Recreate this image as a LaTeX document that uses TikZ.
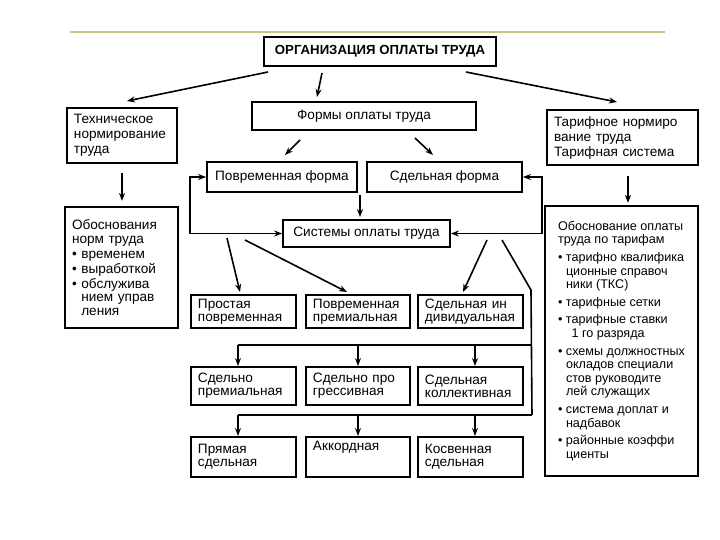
\documentclass[tikz,border=0pt]{standalone}
\usepackage{fontspec}
\setmainfont{Liberation Sans}
\usetikzlibrary{arrows.meta}
\definecolor{olivline}{RGB}{200,195,130}
\newcommand{\blt}{\textbullet\ }
\newcommand{\ind}{\hphantom{\textbullet\ }}
\begin{document}
\begin{tikzpicture}[x=0.5pt, y=-0.5pt,
    box/.style={
        draw,
        line width=0.9pt,
        rectangle,
        inner xsep=3.5pt,
        inner ysep=1pt,
        align=left,
        font=\fontsize{6.8}{6.6}\selectfont
    },
    cbox/.style={
        box,
        align=center
    },
    titlebox/.style={
        box,
        align=center,
        font=\fontsize{6.6}{7}\selectfont\bfseries
    },
    listbox/.style={
        box,
        font=\fontsize{6.3}{6.8}\selectfont
    },
    arr/.style={-{Stealth[length=4pt,width=3pt]}, line width=0.8pt},
    darr/.style={{Stealth[length=4pt,width=3pt]}-{Stealth[length=4pt,width=3pt]}, line width=0.8pt},
    link/.style={line width=0.8pt}
]
    \useasboundingbox (0,0) rectangle (720,540);

    % Линия сверху
    \draw[olivline, line width=0.6pt] (70,32) -- (665,32);

    % Верхний уровень
    \node[titlebox, minimum width=116pt, minimum height=14.5pt] (org) at (380,51.5) {ОРГАНИЗАЦИЯ ОПЛАТЫ ТРУДА};
    \node[box, font=\fontsize{6.8}{7.5}\selectfont, text width=48pt, minimum height=27.5pt] (tech) at (122,135.5) {Техническое\\нормирование\\труда};
    \node[cbox, minimum width=112pt, minimum height=14pt] (formy) at (364,116) {Формы оплаты труда};
    \node[box, font=\fontsize{6.8}{7.5}\selectfont, text width=68.5pt, minimum height=27.5pt] (tarif) at (622.5,137.5) {Тарифное нормиро\\вание труда\\Тарифная система};

    % Левая и правая колонки
    \node[box, text width=49.5pt, minimum height=60.5pt] (obosn) at (121.5,267.5) {Обоснования\\норм труда\\[1pt]
        \blt временем\\[1pt]
        \blt выработкой\\[1pt]
        \blt обслужива\\\ind нием управ\\\ind ления};
    \node[listbox, minimum width=76.5pt, minimum height=135pt] (tarob) at (621.5,341) {Обоснование оплаты\\труда по тарифам\\[2pt]
        \blt тарифно квалифика\\\ind ционные справоч\\\ind ники (ТКС)\\[2pt]
        \blt тарифные сетки\\[2pt]
        \blt тарифные ставки\\\ind\, 1 го разряда\\[2pt]
        \blt схемы должностных\\\ind окладов специали\\\ind стов руководите\\\ind лей служащих\\[2pt]
        \blt система доплат и\\\ind надбавок\\[2pt]
        \blt районные коэффи\\\ind циенты};

    % Формы и системы
    \node[cbox, minimum width=75pt, minimum height=15pt] (povr) at (282,177) {Повременная форма};
    \node[cbox, minimum width=77.5pt, minimum height=15pt] (sdel) at (444.5,177) {Сдельная форма};
    \node[cbox, minimum width=83.5pt, minimum height=13.5pt] (sist) at (366.5,233.5) {Системы оплаты труда};

    % Ряд 1
    \node[box, text width=45.5pt, minimum height=16.5pt] (prost) at (243.5,311.5) {Простая\\повременная};
    \node[box, text width=45pt, minimum height=16.5pt] (povprem) at (358,311.5) {Повременная\\премиальная};
    \node[box, text width=45.5pt, minimum height=16.5pt] (sdind) at (470.5,311.5) {Сдельная ин\\дивидуальная};

    % Ряд 2
    \node[box, text width=45.5pt, minimum height=19pt] (sdprem) at (243.5,386) {Сдельно\\премиальная};
    \node[box, text width=45pt, minimum height=19pt] (sdprog) at (358,386) {Сдельно про\\грессивная};
    \node[box, text width=45.5pt, minimum height=19pt] (sdkoll) at (470.5,386) {Сдельная\\коллективная};

    % Ряд 3
    \node[box, text width=45.5pt, minimum height=20pt] (pryam) at (243.5,457) {Прямая\\сдельная};
    \node[box, text width=45pt, minimum height=20pt, text depth=11pt] (akk) at (358,457) {Аккордная};
    \node[box, text width=45.5pt, minimum height=20pt] (kosv) at (470.5,457) {Косвенная\\сдельная};

    % Свободные концы стрелок
    \coordinate (o1) at (268,72);
    \coordinate (o1e) at (127,101);
    \coordinate (o2) at (322,73);
    \coordinate (o2e) at (317,97);
    \coordinate (o3) at (466,72);
    \coordinate (o3e) at (617,102);
    \coordinate (f1) at (300,140);
    \coordinate (f1e) at (285,155);
    \coordinate (f2) at (415,138);
    \coordinate (f2e) at (433,155);
    \coordinate (mid) at (360,195);
    \coordinate (mide) at (360,217);
    \coordinate (lpt) at (190,177);
    \coordinate (lpb) at (190,233.5);
    \coordinate (rpt) at (542,177);
    \coordinate (rpb) at (542,233.5);
    \coordinate (s1) at (227,238);
    \coordinate (s1e) at (240,292);
    \coordinate (s2) at (245,240);
    \coordinate (s2e) at (347,292);
    \coordinate (s3) at (487,240);
    \coordinate (s3e) at (463,292);
    \coordinate (s4) at (502,240);
    \coordinate (s4k) at (531,290);
    \coordinate (busa) at (532,345);
    \coordinate (busb) at (532,415);

    % Стрелки от заголовка
    \draw[arr] (o1) -- (o1e);
    \draw[arr] (o2) -- (o2e);
    \draw[arr] (o3) -- (o3e);
    \draw[arr] (tech.south) ++(0,9) -- ++(0,28);
    \draw[arr] (tarif.south) ++(5.5,10) -- ++(0,27);

    % Формы
    \draw[arr] (f1) -- (f1e);
    \draw[arr] (f2) -- (f2e);
    \draw[arr] (mid) -- (mide);
    \draw[darr] (povr.west) -- (lpt) -- (lpb) -- (sist.west);
    \draw[darr] (sdel.east) -- (rpt) -- (rpb) -- (sist.east);

    % Системы
    \draw[arr] (s1) -- (s1e);
    \draw[arr] (s2) -- (s2e);
    \draw[arr] (s3) -- (s3e);
    \draw[link] (s4) -- (s4k) -- (busb);

    % Шины к рядам 2 и 3
    \draw[link] (busa) -- (238,345);
    \draw[link] (busb) -- (238,415);
    \foreach \bx in {238, 358, 475}
        \draw[arr] (\bx,345) -- (\bx,366);
    \foreach \bx in {238, 358, 475}
        \draw[arr] (\bx,415) -- (\bx,436);

\end{tikzpicture}
\end{document}
